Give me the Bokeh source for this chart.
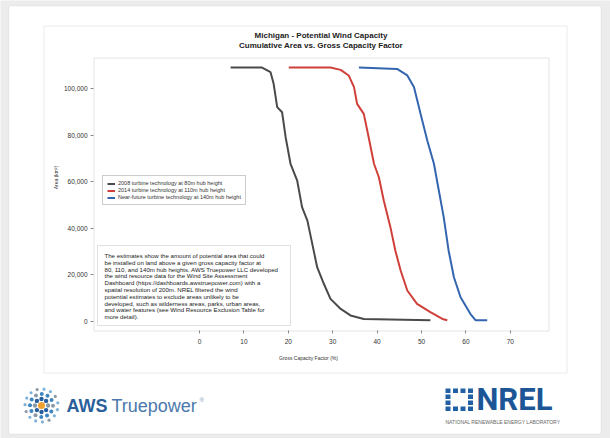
import math
from bokeh.plotting import figure
from bokeh.models import (Range1d, Label, BoxAnnotation, Legend, LegendItem,
                          NumeralTickFormatter, FixedTicker, LinearAxis)
from bokeh.embed import file_html
from bokeh.resources import INLINE

# ---------------- data ----------------
series_names = [
    "2008 turbine technology at 80m hub height",
    "2014 turbine technology at 110m hub height",
    "Near-future turbine technology at 140m hub height",
]
cf_2008 = [7.0, 14.1, 16.0, 16.7, 17.5, 18.6, 19.4, 20.5, 22.0, 23.1, 24.3, 25.4,
           26.5, 28.0, 29.5, 31.8, 34.0, 37.0, 52.0]
area_2008 = [109000, 109000, 107000, 102000, 92000, 89800, 79100, 67700, 60500,
             49100, 43300, 33300, 23300, 16200, 9700, 5400, 2600, 1100, 500]
cf_2014 = [20.1, 29.5, 31.8, 33.6, 34.8, 35.5, 37.0, 38.1, 39.3, 40.4, 41.5, 43.0,
           44.1, 45.3, 46.8, 49.0, 52.0, 54.7, 55.8]
area_2014 = [109000, 109000, 108000, 105600, 100600, 93400, 89100, 79100, 67700,
             61900, 51900, 40500, 30500, 21900, 13300, 7600, 4000, 1100, 500]
cf_future = [35.9, 44.5, 46.8, 48.3, 49.8, 51.3, 52.8, 53.9, 55.0, 56.1, 57.3,
             58.8, 61.0, 62.2, 64.8]
area_future = [109000, 108400, 105600, 100600, 89100, 77700, 67700, 56200, 44800,
               30500, 19000, 10400, 3300, 500, 500]
x_ticks = [0, 10, 20, 30, 40, 50, 60, 70]
y_ticks = [0, 20000, 40000, 60000, 80000, 100000]
x_axis_title = "Gross Capacity Factor (%)"
y_axis_title = "Area (km²)"
title_lines = ["Michigan - Potential Wind Capacity",
               "Cumulative Area vs. Gross Capacity Factor"]
note_lines = [
    "The estimates show the amount of potential area that could",
    "be installed on land above a given gross capacity factor at",
    "80, 110, and 140m hub heights. AWS Truepower LLC developed",
    "the wind resource data for the Wind Site Assessment",
    "Dashboard (https://dashboards.awstruepower.com) with a",
    "spatial resolution of 200m. NREL filtered the wind",
    "potential estimates to exclude areas unlikely to be",
    "developed, such as wilderness areas, parks, urban areas,",
    "and water features (see Wind Resource Exclusion Table for",
    "more detail).",
]
colors = ["#4a4a4a", "#d0403a", "#3466b0"]

# ---------------- layout constants (pixels) ----------------
W, H = 610, 438
PL, PR, PT, PB = 93, 548, 57, 330          # plot-area box on the canvas
X0_PX, X_PER = 199.0, 4.44                 # x=0 pixel, pixels per 1 %
Y0_PX, Y_PER = 321.0, 0.00233              # y=0 pixel, pixels per km²

def sy(py):                                # canvas y (down) -> screen units (up)
    return H - py

x_start = -X0_PX / X_PER
x_end = (W - X0_PX) / X_PER
y_start = -(H - Y0_PX) / Y_PER
y_end = Y0_PX / Y_PER
x_plot = ((PL - X0_PX) / X_PER, (PR - X0_PX) / X_PER)
y_plot = (-(PB - Y0_PX) / Y_PER, (Y0_PX - PT) / Y_PER)

p = figure(width=W, height=H, output_backend="svg", toolbar_location=None,
           x_range=Range1d(x_start, x_end), y_range=Range1d(y_start, y_end),
           x_axis_location=None, y_axis_location=None,
           min_border=0, min_border_left=0, min_border_right=0,
           min_border_top=0, min_border_bottom=0)
p.background_fill_color = "#ececec"
p.border_fill_color = "#ececec"
p.outline_line_color = None
p.grid.visible = False

def sbox(l, r, t, b, **kw):
    box = BoxAnnotation(left=l, right=r, top=t, bottom=b,
                        left_units="screen", right_units="screen",
                        top_units="screen", bottom_units="screen", **kw)
    p.add_layout(box)
    return box

# page / panel / plot-area frames (underneath the data lines)
sbox(8.5, 600.5, sy(5.5), sy(433.5), fill_color="white", fill_alpha=1,
     line_color="#cccccc", line_width=1, level="underlay")
sbox(43.5, 566.5, sy(25.5), sy(372.5), fill_alpha=0, line_color="#bdbdbd",
     line_width=1, level="underlay")
sbox(PL + 0.5, PR + 0.5, sy(PT + 0.5), sy(PB + 0.5), fill_alpha=0,
     line_color="#a8a8a8", line_width=1, level="underlay")

# axes drawn at the plot-area edges
xax = LinearAxis(fixed_location=y_plot[0], bounds=x_plot,
                 ticker=FixedTicker(ticks=x_ticks))
yax = LinearAxis(fixed_location=x_plot[0], bounds=y_plot,
                 ticker=FixedTicker(ticks=y_ticks),
                 formatter=NumeralTickFormatter(format="0,0"))
for ax in (xax, yax):
    ax.axis_line_color = None
    ax.major_tick_line_color = "#888888"
    ax.major_tick_in = 0
    ax.major_tick_out = 3
    ax.minor_tick_line_color = None
    ax.major_label_text_font = "Liberation Sans"
    ax.major_label_text_font_size = "6.5px"
    ax.major_label_text_color = "#333333"
xax.major_label_standoff = 5
yax.major_label_standoff = 3
p.add_layout(xax, "below")
p.add_layout(yax, "left")

# axis titles
p.add_layout(Label(x=308, y=sy(357), x_units="screen", y_units="screen",
                   text=x_axis_title, text_align="center", text_baseline="middle",
                   text_font="Liberation Sans", text_font_size="5px",
                   text_color="#333333"))
p.add_layout(Label(x=55, y=sy(177), x_units="screen", y_units="screen",
                   text=y_axis_title, angle=math.pi / 2, text_align="center",
                   text_baseline="middle", text_font="Liberation Sans",
                   text_font_size="5px", text_color="#333333"))

# data lines
r1 = p.line(cf_2008, area_2008, line_color=colors[0], line_width=2)
r2 = p.line(cf_2014, area_2014, line_color=colors[1], line_width=2)
r3 = p.line(cf_future, area_future, line_color=colors[2], line_width=2)

legend = Legend(items=[LegendItem(label=series_names[0], renderers=[r1]),
                       LegendItem(label=series_names[1], renderers=[r2]),
                       LegendItem(label=series_names[2], renderers=[r3])],
                location=(102, sy(205)))
legend.label_text_font = "Liberation Sans"
legend.label_text_font_size = "5.5px"
legend.label_text_color = "#333333"
legend.label_height = 5
legend.glyph_height = 5
legend.glyph_width = 8
legend.label_standoff = 3
legend.spacing = 1
legend.padding = 4
legend.margin = 0
legend.border_line_color = "#999999"
legend.background_fill_color = "white"
legend.background_fill_alpha = 1
p.add_layout(legend)

# title
for i, t in enumerate(title_lines):
    p.add_layout(Label(x=(PL + PR) / 2, y=sy(35 + 10 * i), x_units="screen",
                       y_units="screen", text=t, text_align="center",
                       text_baseline="middle", text_font="Liberation Sans",
                       text_font_style="bold", text_font_size="8px",
                       text_color="#222222"))

# note box
sbox(97, 290, sy(245), sy(325), fill_color="white", fill_alpha=1,
     line_color="#999999", line_width=1)
for i, t in enumerate(note_lines):
    p.add_layout(Label(x=104, y=sy(255 + 6.8 * i), x_units="screen",
                       y_units="screen", text=t, text_align="left",
                       text_baseline="middle", text_font="Liberation Sans",
                       text_font_size="6.1px", text_color="#222222"))

# AWS Truepower logo
cx, cy = 41, sy(405)
rings = [(6.5, 8, "#2a5f9e", 2.2), (11.5, 12, "#3d86c0", 2.0), (16.5, 15, "#7fb2d8", 1.6)]
for k, (rad, n, col, s) in enumerate(rings):
    for j in range(n):
        a = 2 * math.pi * j / n + 0.5 * k
        x0, y0 = cx + rad * math.cos(a), cy + rad * math.sin(a)
        c = col if (j + k) % 4 else "#8a9aa8"
        sbox(x0 - s, x0 + s, y0 + s, y0 - s, fill_color=c, fill_alpha=1,
             line_alpha=0, border_radius=int(math.ceil(s)))
sbox(cx - 3.5, cx + 3.5, cy + 3.5, cy - 3.5, fill_color="#f0a030", fill_alpha=1,
     line_alpha=0, border_radius=4)
p.add_layout(Label(x=66, y=sy(405), x_units="screen", y_units="screen", text="AWS",
                   text_baseline="middle", text_font="Liberation Sans",
                   text_font_style="bold", text_font_size="18px", text_color="#2b5f9c"))
p.add_layout(Label(x=111, y=sy(405), x_units="screen", y_units="screen",
                   text="Truepower", text_baseline="middle",
                   text_font="Liberation Sans", text_font_size="18px",
                   text_color="#4a78aa"))
p.add_layout(Label(x=199, y=sy(399), x_units="screen", y_units="screen", text="®",
                   text_baseline="middle", text_font="Liberation Sans",
                   text_font_size="6px", text_color="#7895b4"))

# NREL logo
for gx in range(4):
    for gy in range(4):
        if 0 < gx < 3 and 0 < gy < 3:
            continue
        x0 = 445 + gx * 7.5
        y0 = sy(388 + gy * 6)
        sbox(x0, x0 + 5, y0, y0 - 4.5, fill_color="#2160a4", fill_alpha=1,
             line_alpha=0)
p.add_layout(Label(x=476, y=sy(399), x_units="screen", y_units="screen", text="NREL",
                   text_baseline="middle", text_font="Roboto",
                   text_font_style="bold", text_font_size="31px", text_color="#1c5696"))
p.add_layout(Label(x=445, y=sy(421), x_units="screen", y_units="screen",
                   text="NATIONAL RENEWABLE ENERGY LABORATORY",
                   text_baseline="middle", text_font="Liberation Sans",
                   text_font_size="5px", text_color="#666666"))

open("out.html", "w").write(file_html(p, INLINE))
